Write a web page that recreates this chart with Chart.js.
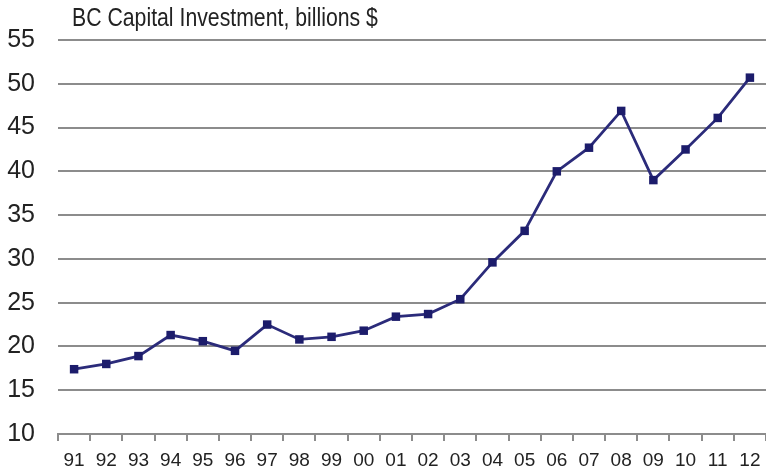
<!DOCTYPE html>
<html>
<head>
<meta charset="utf-8">
<script src="https://cdn.jsdelivr.net/npm/chart.js@4/dist/chart.umd.min.js"></script>
<style>
    html, body { margin:0; padding:0; background:#fff; overflow:hidden; }
    .wrap { width:772px; height:473px; }
</style>
</head>
<body>
<div class="wrap"><canvas id="invest" width="772" height="473"></canvas></div>
<script>
// 연도 (91 ~ 12)
const years = ['91','92','93','94','95','96','97','98','99','00','01','02','03','04','05','06','07','08','09','10','11','12'];
// 투자액 (billions $)
const investment = [17.4, 18.0, 18.9, 21.3, 20.6, 19.5, 22.5, 20.8, 21.1, 21.8, 23.4, 23.7, 25.4, 29.6, 33.2, 40.0, 42.7, 46.9, 39.0, 42.5, 46.1, 50.7];
// y축 범위
const yMin = 10, yMax = 55, yStep = 5;

const FONT = '"Liberation Sans", Arial, sans-serif';

// 제목 그리기 (좁은 글꼴 느낌으로 가로만 줄임)
const titlePlugin = {
    id:'topTitle',
    afterDraw(chart){
        const ctx = chart.ctx;
        ctx.save();
        ctx.fillStyle = '#222';
        ctx.font = `25px ${FONT}`;
        ctx.textBaseline = 'middle';
        ctx.translate(72, 19);
        ctx.scale(0.85, 1);
        ctx.fillText('BC Capital Investment, billions $', 0, 0);
        ctx.restore();
    }
};

new Chart(document.getElementById('invest'), {
    type : 'line',
    data : {
        labels : years,
        datasets : [ {
            data : investment,
            borderColor : '#2b2b7a',
            borderWidth : 2.8,
            backgroundColor : '#1c1c6b',
            pointStyle : 'rect',
            pointRadius : 6,
            pointBorderWidth : 0,
            tension : 0,
        } ]
    },
    options : {
        responsive:false,
        animation:false,
        layout:{ padding:{ top:40, right:2 } },
        plugins:{
            legend:{ display:false },
            tooltip:{ enabled:false },
        },
        scales:{
            y:{
                min:yMin,
                max:yMax,
                afterFit(scale){ scale.width = 58; },
                border:{ display:false },
                grid:{ color:'#8c8c8c', lineWidth:2, drawTicks:false },
                ticks:{
                    stepSize:yStep,
                    padding:23,
                    color:'#222',
                    font:{ family:FONT, size:25 }
                }
            },
            x:{
                offset:true,
                afterFit(scale){ scale.height = 39; },
                border:{ display:true, color:'#8c8c8c', width:2 },
                grid:{ offset:true, drawOnChartArea:false, drawTicks:true, tickLength:7, color:'#8c8c8c', lineWidth:2 },
                ticks:{
                    padding:8,
                    color:'#222',
                    maxRotation:0,
                    autoSkip:false,
                    font:{ family:FONT, size:19 }
                }
            }
        }
    },
    plugins:[titlePlugin]
});
</script>
</body>
</html>
